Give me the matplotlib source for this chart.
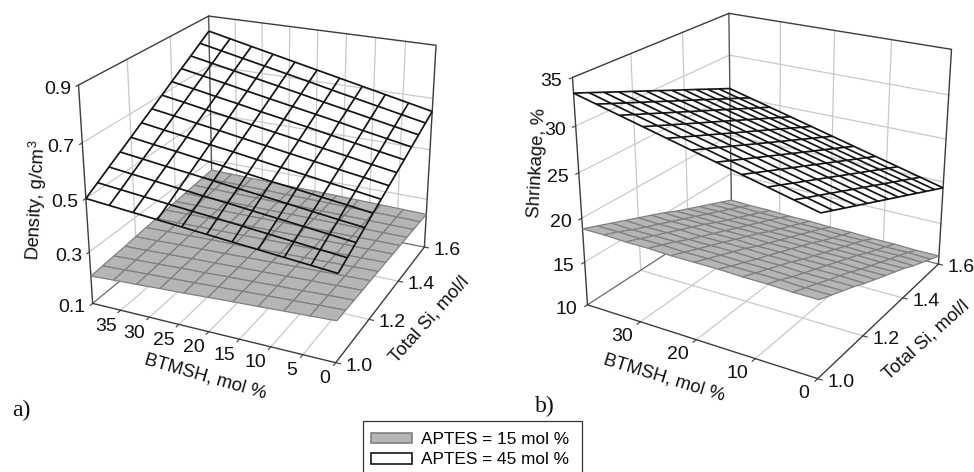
import numpy as np
import matplotlib
matplotlib.use('Agg')
import matplotlib.pyplot as plt
from matplotlib.patches import Patch, Rectangle
from mpl_toolkits.mplot3d import proj3d

plt.rcParams['font.family'] = ['Liberation Sans', 'DejaVu Sans']
plt.rcParams['mathtext.default'] = 'regular'

W_PX, H_PX = 974, 472

btmsh_ticks_a = [0, 5, 10, 15, 20, 25, 30, 35]
btmsh_ticks_b = [0, 10, 20, 30]
si_ticks = [1.0, 1.2, 1.4, 1.6]
density_ticks = [0.1, 0.3, 0.5, 0.7, 0.9]
shrink_ticks = [10, 15, 20, 25, 30, 35]

btmsh_nodes = [0, 4, 8, 12, 16, 20, 24, 28, 32, 36, 40]
si_nodes = [1.0, 1.05, 1.1, 1.15, 1.2, 1.25, 1.3, 1.35, 1.4, 1.45, 1.5, 1.55, 1.6]

# rows: Total Si nodes, columns: BTMSH nodes
density_15 = [
    [.253, .248, .244, .239, .235, .230, .225, .221, .216, .212, .207],
    [.252, .248, .244, .240, .236, .231, .227, .223, .219, .215, .211],
    [.250, .247, .243, .240, .236, .233, .229, .226, .222, .219, .215],
    [.249, .246, .243, .240, .237, .234, .231, .228, .225, .222, .219],
    [.248, .246, .243, .241, .238, .236, .233, .231, .229, .226, .224],
    [.247, .245, .243, .241, .239, .237, .235, .234, .232, .230, .228],
    [.246, .244, .243, .241, .240, .239, .237, .236, .235, .233, .232],
    [.244, .243, .243, .242, .241, .240, .239, .239, .238, .237, .236],
    [.243, .243, .242, .242, .242, .242, .241, .241, .241, .241, .240],
    [.242, .242, .242, .243, .243, .243, .243, .244, .244, .244, .245],
    [.240, .241, .242, .243, .244, .245, .245, .246, .247, .248, .249],
    [.239, .241, .242, .243, .245, .246, .247, .249, .250, .251, .253],
    [.238, .240, .242, .244, .246, .248, .249, .251, .253, .255, .257],
]
density_45 = [
    [.420, .428, .436, .444, .452, .460, .468, .476, .484, .492, .500],
    [.439, .448, .457, .466, .475, .484, .492, .501, .510, .519, .528],
    [.458, .468, .478, .488, .498, .508, .517, .527, .537, .547, .557],
    [.478, .488, .499, .510, .521, .531, .542, .553, .563, .574, .585],
    [.497, .509, .520, .532, .543, .555, .567, .578, .590, .601, .613],
    [.516, .529, .541, .554, .566, .579, .592, .604, .617, .629, .642],
    [.535, .549, .562, .576, .589, .603, .616, .630, .643, .657, .670],
    [.554, .568, .583, .597, .612, .626, .640, .655, .669, .684, .698],
    [.573, .588, .604, .619, .635, .650, .665, .681, .696, .712, .727],
    [.593, .609, .625, .642, .658, .674, .690, .706, .723, .739, .755],
    [.612, .629, .646, .663, .680, .698, .715, .732, .749, .766, .783],
    [.631, .649, .667, .685, .703, .722, .740, .758, .776, .794, .812],
    [.650, .669, .688, .707, .726, .745, .764, .783, .802, .821, .840],
]
shrink_15 = [
    [18.4, 18.4, 18.5, 18.5, 18.6, 18.6, 18.6, 18.7, 18.7, 18.8, 18.8],
    [17.8, 17.8, 17.9, 17.9, 17.9, 18.0, 18.0, 18.1, 18.1, 18.2, 18.2],
    [17.2, 17.2, 17.2, 17.3, 17.3, 17.4, 17.4, 17.5, 17.5, 17.5, 17.6],
    [16.6, 16.6, 16.6, 16.7, 16.7, 16.8, 16.8, 16.8, 16.9, 16.9, 17.0],
    [15.9, 16.0, 16.0, 16.1, 16.1, 16.2, 16.2, 16.2, 16.3, 16.3, 16.4],
    [15.3, 15.4, 15.4, 15.4, 15.5, 15.5, 15.6, 15.6, 15.7, 15.7, 15.8],
    [14.7, 14.7, 14.8, 14.8, 14.9, 14.9, 15.0, 15.0, 15.1, 15.1, 15.2],
    [14.1, 14.1, 14.2, 14.2, 14.3, 14.3, 14.4, 14.4, 14.4, 14.5, 14.5],
    [13.5, 13.5, 13.6, 13.6, 13.7, 13.7, 13.7, 13.8, 13.8, 13.9, 13.9],
    [12.8, 12.9, 12.9, 13.0, 13.0, 13.1, 13.1, 13.2, 13.2, 13.3, 13.3],
    [12.2, 12.3, 12.3, 12.4, 12.4, 12.5, 12.5, 12.6, 12.6, 12.7, 12.7],
    [11.6, 11.7, 11.7, 11.8, 11.8, 11.9, 11.9, 12.0, 12.0, 12.1, 12.1],
    [11.0, 11.0, 11.1, 11.1, 11.2, 11.2, 11.3, 11.3, 11.4, 11.4, 11.5],
]
shrink_45 = [
    [27.10, 27.73, 28.36, 28.99, 29.62, 30.25, 30.88, 31.51, 32.14, 32.77, 33.40],
    [26.45, 27.08, 27.72, 28.35, 28.98, 29.61, 30.24, 30.88, 31.51, 32.14, 32.78],
    [25.80, 26.44, 27.07, 27.70, 28.34, 28.98, 29.61, 30.24, 30.88, 31.51, 32.15],
    [25.15, 25.79, 26.42, 27.06, 27.70, 28.34, 28.98, 29.61, 30.25, 30.89, 31.52],
    [24.50, 25.14, 25.78, 26.42, 27.06, 27.70, 28.34, 28.98, 29.62, 30.26, 30.90],
    [23.85, 24.49, 25.14, 25.78, 26.42, 27.06, 27.70, 28.35, 28.99, 29.63, 30.28],
    [23.20, 23.84, 24.49, 25.14, 25.78, 26.42, 27.07, 27.72, 28.36, 29.00, 29.65],
    [22.55, 23.20, 23.84, 24.49, 25.14, 25.79, 26.44, 27.08, 27.73, 28.38, 29.02],
    [21.90, 22.55, 23.20, 23.85, 24.50, 25.15, 25.80, 26.45, 27.10, 27.75, 28.40],
    [21.25, 21.90, 22.56, 23.21, 23.86, 24.51, 25.16, 25.82, 26.47, 27.12, 27.78],
    [20.60, 21.26, 21.91, 22.56, 23.22, 23.88, 24.53, 25.18, 25.84, 26.49, 27.15],
    [19.95, 20.61, 21.26, 21.92, 22.58, 23.24, 23.89, 24.55, 25.21, 25.87, 26.52],
    [19.30, 19.96, 20.62, 21.28, 21.94, 22.60, 23.26, 23.92, 24.58, 25.24, 25.90],
]

GRID = '#c9c9c9'
EDGE = '#3c3c3c'
FILL = '#b5b5b5'
MESH = '#808080'
WIRE = '#141414'

fig = plt.figure(figsize=(W_PX/100, H_PX/100), dpi=100)
X, Y = np.meshgrid(btmsh_nodes, si_nodes)


def panel(s, ox, oy, elev, azim, focal, aspect, zlim, xticks, zticks, low, high, xoff, zfmt):
    W = s/5.4054
    cx = ox-0.013514*W
    cy = (H_PX-oy)-0.013514*W
    ax = fig.add_axes([(cx-W/2)/W_PX, (cy-W/2)/H_PX, W/W_PX, W/H_PX],
                      projection='3d', facecolor='none')
    ax.set_axis_off()
    ax.computed_zorder = False
    ax.set_xlim(40, 0)
    ax.set_ylim(1.0, 1.6)
    ax.set_zlim(*zlim)
    ax.view_init(elev, azim)
    ax.set_proj_type('persp', focal_length=focal)
    ax.set_box_aspect(aspect)
    z0, z1 = zlim
    gk = dict(color=GRID, lw=0.9, zorder=1)
    ek = dict(color=EDGE, lw=1.0, zorder=2)
    tk = dict(color=EDGE, lw=0.8, zorder=2)
    for x in xticks[1:]:
        ax.plot([x, x], [1.0, 1.6], [z0, z0], **gk)
        ax.plot([x, x], [1.6, 1.6], [z0, z1], **gk)
    for y in si_ticks[1:-1]:
        ax.plot([0, 40], [y, y], [z0, z0], **gk)
        ax.plot([40, 40], [y, y], [z0, z1], **gk)
    for z in zticks[1:-1]:
        ax.plot([40, 40], [1.0, 1.6], [z, z], **gk)
        ax.plot([40, 0], [1.6, 1.6], [z, z], **gk)
    ax.plot([0, 40, 40], [1.6, 1.6, 1.0], [z0, z0, z0], color='#6a6a6a', lw=0.9, zorder=2)
    ax.plot([40, 40], [1.6, 1.6], [z0, z1], color='#555555', lw=1.0, zorder=2)
    ax.plot([40, 0, 0], [1.0, 1.0, 1.6], [z0, z0, z0], **ek)
    ax.plot([40, 40, 40, 0, 0], [1.0, 1.0, 1.6, 1.6, 1.6], [z0, z1, z1, z1, z0], **ek)
    for x in xticks:
        ax.plot([x, x], [1.0, 0.988], [z0, z0], **tk)
    for y in si_ticks:
        ax.plot([0, -0.7], [y, y], [z0, z0], **tk)
    for z in zticks:
        ax.plot([40, 40], [1.0, 0.99], [z, z], **tk)

    ax.plot_surface(X, Y, np.array(low), rstride=1, cstride=1, color=FILL, edgecolor=MESH,
                    linewidth=0.9, shade=False, antialiased=True, zorder=3)
    ax.plot_wireframe(X, Y, np.array(high), rstride=1, cstride=1, color=WIRE, linewidth=1.25, zorder=4)

    M = ax.get_proj()

    def lab(x, y, z, t, off):
        u, v, _ = proj3d.proj_transform(x, y, z, M)
        ax.annotate(t, xy=(u, v), xytext=(off[0], -off[1]), textcoords='offset pixels',
                    ha='center', va='center', fontsize=14, color='#111111',
                    annotation_clip=False, zorder=6)
    for x in xticks:
        lab(x, 1.0, z0, str(x), xoff if x >= 10 else (xoff[0]+3.5, xoff[1]))
    for y in si_ticks:
        lab(0, y, z0, f'{y:.1f}', (23, 3.5))
    for z in zticks:
        lab(40, 1.0, z, zfmt.format(z), (-21, 4.5))
    return ax


panel(2257.9, 266.17, 172.96, 23.02, -65.04, 0.5293, (1.0, 0.9952, 0.8793), (0.1, 0.9),
      btmsh_ticks_a, density_ticks, density_15, density_45, (-15, 16), '{:.1f}')
panel(2333.95, 768.81, 177.55, 22.76, -58.75, 0.5162, (1.0, 1.0064, 0.9046), (10, 35),
      btmsh_ticks_b, shrink_ticks, shrink_15, shrink_45, (-18, 15), '{:d}')


def ftext(px, py, t, rot=0, size=13.3, **kw):
    fig.text(px/W_PX, 1-py/H_PX, t, rotation=rot, rotation_mode='anchor', ha='center', va='center',
             fontsize=size, color='#111111', **kw)


ftext(36, 200, 'Density, g/cm$^{3}$', 87)
ftext(205, 377, 'BTMSH, mol %', -16)
ftext(430, 320, 'Total Si, mol/l', 48)
ftext(537, 163, 'Shrinkage, %', 87)
ftext(664, 378, 'BTMSH, mol %', -17)
ftext(926, 340, 'Total Si, mol/l', 42)
ftext(21, 410, 'a)', size=17, family='Liberation Serif')
ftext(545, 406, 'b)', size=17, family='Liberation Serif')

fig.add_artist(Rectangle((363/W_PX, 1-475/H_PX), 219/W_PX, 54/H_PX, transform=fig.transFigure,
                         facecolor='white', edgecolor='#333333', linewidth=0.9))
handles = [Patch(facecolor=FILL, edgecolor=MESH, linewidth=1.2),
           Patch(facecolor='white', edgecolor=WIRE, linewidth=1.2)]
leg = fig.legend(handles, ['APTES = 15 mol %', 'APTES = 45 mol %'], loc='lower left',
                 bbox_to_anchor=(371/W_PX, 1-467.5/H_PX), borderaxespad=0, borderpad=0, fontsize=12.4,
                 frameon=False, handlelength=2.38, handleheight=0.55, labelspacing=0.3,
                 handletextpad=0.5)
fig.savefig('out.png', dpi=100, facecolor='white')
